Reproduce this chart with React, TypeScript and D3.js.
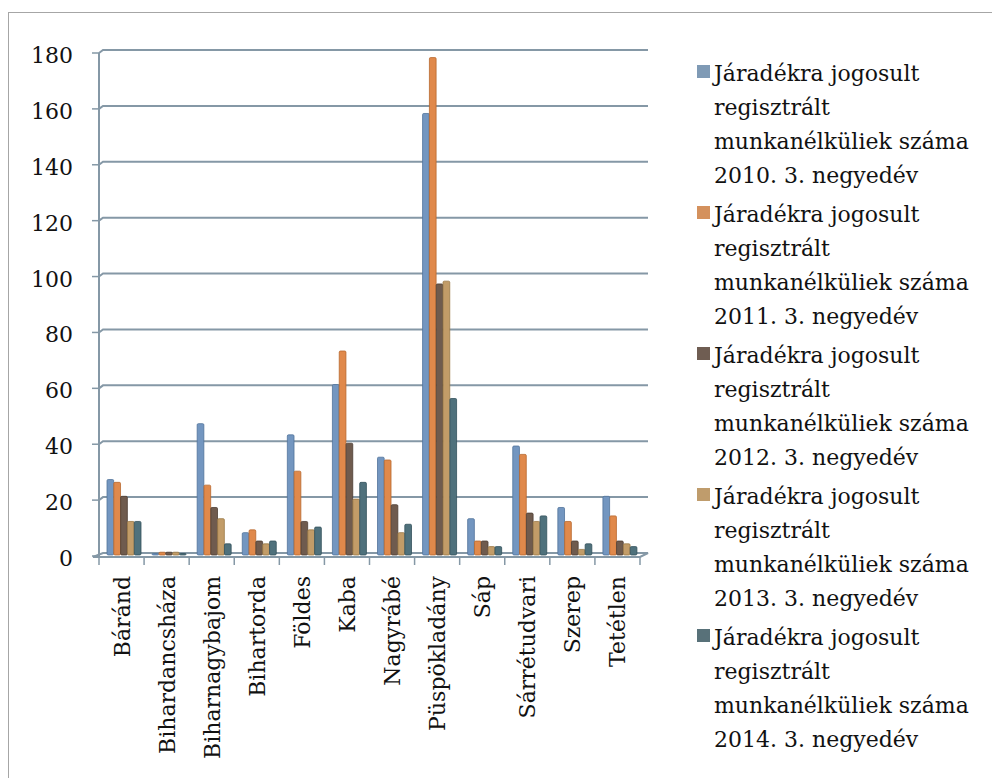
import React from "react";
import * as d3 from "d3";

const categories = ["Báránd","Bihardancsháza","Biharnagybajom","Bihartorda","Földes","Kaba","Nagyrábé","Püspökladány","Sáp","Sárrétudvari","Szerep","Tetétlen"];
const seriesNames = [
  "2010. 3. negyedév",
  "2011. 3. negyedév",
  "2012. 3. negyedév",
  "2013. 3. negyedév",
  "2014. 3. negyedév",
];
const s2010 = [27, 0, 47, 8, 43, 61, 35, 158, 13, 39, 17, 21];
const s2011 = [26, 1, 25, 9, 30, 73, 34, 178, 5, 36, 12, 14];
const s2012 = [21, 1, 17, 5, 12, 40, 18, 97, 5, 15, 5, 5];
const s2013 = [12, 1, 13, 4, 9, 20, 8, 98, 3, 12, 2, 4];
const s2014 = [12, 0, 4, 5, 10, 26, 11, 56, 3, 14, 4, 3];
const seriesValues = [s2010, s2011, s2012, s2013, s2014];
const yTicks = [0, 20, 40, 60, 80, 100, 120, 140, 160, 180];
const colors = ["#7396c0", "#e0894b", "#6f5b4e", "#c29c68", "#4f717c"];
const strokes = ["#52739a", "#b8682f", "#4d3d33", "#9a7845", "#34525c"];
const legendColors = ["#7f9ab5", "#d4915d", "#6f5d52", "#bf9c6c", "#587179"];

const FONT = "'DejaVu Serif', serif";

export default function App() {
  const x0 = 99, x1 = 640;
  const dx = 8, dy = 4;
  const yFront = d3.scaleLinear().domain([0, 180]).range([556, 53]);
  const yBack = (v: number) => yFront(v) - dy + 1;
  const xBand = d3.scaleBand<string>().domain(categories).range([x0, x1]).paddingInner(0).paddingOuter(0);
  const inner = d3.scaleBand<number>().domain([0, 1, 2, 3, 4]).range([8, 42]).paddingInner(0.02);
  const gridColor = "#8598a6";
  const textColor = "#111";

  const legendX = 697;
  const legendTextX = 714;

  return (
    <svg width={992} height={778} style={{ position: "absolute", left: 0, top: 0, background: "#fff" }} fontFamily={FONT}>
      <rect x={8.5} y={12.5} width={990} height={780} fill="#fff" stroke="#a6a6a6" strokeWidth={1} />
      {/* floor */}
      <path d={`M${x0 - 6},${yFront(0) + 1} L${x1},${yFront(0) + 1} L${x1 + dx},${yBack(0)} L${x0 + 4},${yBack(0)} Z`} fill="none" stroke={gridColor} strokeWidth={2} />
      {/* gridlines */}
      {yTicks.map((t) => (
        <g key={t}>
          {t > 0 && (
            <path d={`M${x0},${yFront(t)} L${x0 + 4},${yBack(t)} L${x1 + dx},${yBack(t)}`} fill="none" stroke={gridColor} strokeWidth={2} />
          )}
          <line x1={x0 - 7} x2={x0} y1={yFront(t)} y2={yFront(t)} stroke={gridColor} strokeWidth={1.5} />
          <text x={73} y={yFront(t) + 10} textAnchor="end" fontSize={22} fill={textColor}>{t}</text>
        </g>
      ))}
      {/* y axis */}
      <line x1={x0} x2={x0} y1={yFront(180)} y2={yFront(0) + 1} stroke={gridColor} strokeWidth={2} />
      {/* x ticks */}
      {categories.map((c, i) => (
        <line key={"t" + i} x1={xBand(c)!} x2={xBand(c)!} y1={yFront(0) + 1} y2={yFront(0) + 9} stroke={gridColor} strokeWidth={1.5} />
      ))}
      <line x1={x1} x2={x1} y1={yFront(0) + 1} y2={yFront(0) + 9} stroke={gridColor} strokeWidth={1.5} />
      {/* bars */}
      {categories.map((c, i) => (
        <g key={c}>
          {seriesValues.map((vals, s) => {
            const v = vals[i];
            const bx = xBand(c)! + inner(s)!;
            const bw = inner.bandwidth();
            const top = yFront(v) - 1;
            const bottom = yFront(0) - 1;
            const h = Math.max(bottom - top, 1.5);
            return (
              <rect key={s} x={bx} y={bottom - h} width={bw} height={h} rx={1.2} fill={colors[s]} stroke={strokes[s]} strokeWidth={0.8} />
            );
          })}
        </g>
      ))}
      {/* category labels */}
      {categories.map((c) => {
        const cx = xBand(c)! + xBand.bandwidth() / 2 + 8;
        return (
          <text key={"l" + c} transform={`translate(${cx},576) rotate(-90)`} textAnchor="end" fontSize={22} fill={textColor}>{c}</text>
        );
      })}
      {/* legend */}
      {seriesNames.map((n, i) => {
        const by = 81 + 141 * i;
        const lines = ["Járadékra jogosult", "regisztrált", "munkanélküliek száma", n];
        return (
          <g key={n}>
            <rect x={legendX} y={by - 16} width={13} height={13} fill={legendColors[i]} />
            {lines.map((l, k) => (
              <text key={k} x={legendTextX} y={by + 34 * k} fontSize={22} fill={textColor}>{l}</text>
            ))}
          </g>
        );
      })}
    </svg>
  );
}
